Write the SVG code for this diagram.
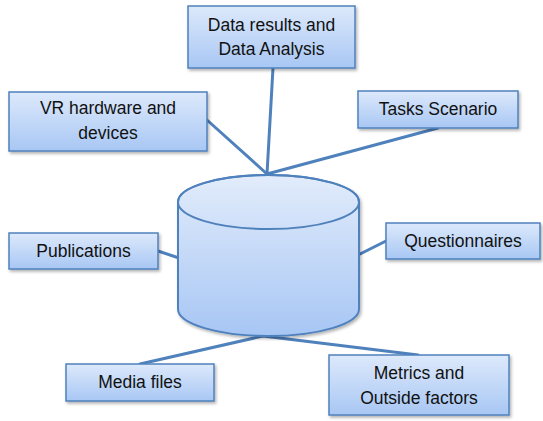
<svg xmlns="http://www.w3.org/2000/svg" width="543" height="421" viewBox="0 0 543 421">
<defs>
<linearGradient id="boxg" x1="0" y1="0" x2="0" y2="1">
<stop offset="0" stop-color="#dde9fb"/>
<stop offset="1" stop-color="#a8c7f4"/>
</linearGradient>
<linearGradient id="cylg" x1="0" y1="0" x2="0" y2="1">
<stop offset="0" stop-color="#e2ecfb"/>
<stop offset="1" stop-color="#a7c6f4"/>
</linearGradient>
<filter id="sh" x="-10%" y="-10%" width="130%" height="140%">
<feDropShadow dx="1.5" dy="2" stdDeviation="1.5" flood-color="#000" flood-opacity="0.3"/>
</filter>
</defs>
<style>
.box{fill:url(#boxg);stroke:#4f81bd;stroke-width:1.5;filter:url(#sh)}
.t{font-family:"Liberation Sans",Arial,sans-serif;font-size:17.5px;fill:#111;text-anchor:middle}
.c{stroke:#4f81bd;stroke-width:3;fill:none;stroke-linecap:round}
.cyl{fill:url(#cylg);stroke:#4f81bd;stroke-width:2}
</style>
<rect width="543" height="421" fill="#fff"/>
<g id="connectors">
<line class="c" x1="273" y1="68" x2="267" y2="174"/>
<line class="c" x1="207" y1="120" x2="267" y2="174"/>
<line class="c" x1="438" y1="128" x2="267" y2="174"/>
<line class="c" x1="158" y1="251" x2="179" y2="258"/>
<line class="c" x1="386" y1="241" x2="358" y2="255"/>
<line class="c" x1="140" y1="364" x2="263" y2="336"/>
<line class="c" x1="418" y1="355" x2="263" y2="336"/>
</g>
<g id="database">
<path class="cyl" d="M178,202 L178,309 A90.5,27 0 0 0 359,309 L359,202 A90.5,27 0 0 0 178,202 Z" filter="url(#sh)"/>
<ellipse cx="268.5" cy="202" rx="90.5" ry="27" fill="none" stroke="#4f81bd" stroke-width="2"/>
</g>
<g id="data-results">
<rect class="box" x="188" y="6" width="167" height="62"/>
<text class="t" x="271.5" y="31">Data results and</text>
<text class="t" x="271.5" y="55">Data Analysis</text>
</g>
<g id="vr-hardware">
<rect class="box" x="9" y="92" width="198" height="59"/>
<text class="t" x="108" y="114">VR hardware and</text>
<text class="t" x="108" y="139">devices</text>
</g>
<g id="tasks-scenario">
<rect class="box" x="358" y="91" width="160" height="37"/>
<text class="t" x="438" y="115">Tasks Scenario</text>
</g>
<g id="publications">
<rect class="box" x="9" y="233" width="149" height="36"/>
<text class="t" x="83.5" y="257">Publications</text>
</g>
<g id="questionnaires">
<rect class="box" x="386" y="223" width="154" height="36"/>
<text class="t" x="463" y="247">Questionnaires</text>
</g>
<g id="media-files">
<rect class="box" x="66" y="364" width="148" height="37"/>
<text class="t" x="140" y="388">Media files</text>
</g>
<g id="metrics">
<rect class="box" x="329" y="355" width="180" height="60"/>
<text class="t" x="419" y="379">Metrics and</text>
<text class="t" x="419" y="404">Outside factors</text>
</g>
</svg>
